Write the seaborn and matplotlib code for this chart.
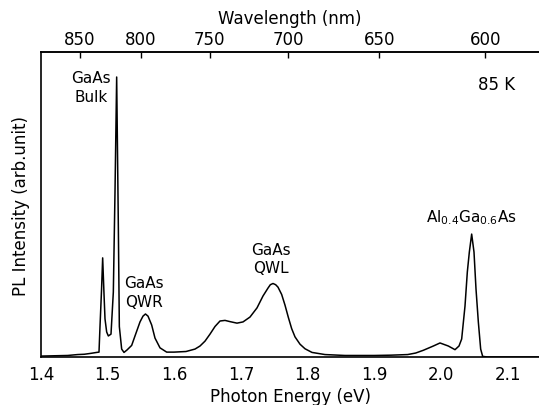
import numpy as np
import matplotlib
matplotlib.use('Agg')
import matplotlib.pyplot as plt
import seaborn as sns

# Espectro de PL (energía en eV, intensidad en unidades arbitrarias)
energy = [1.400, 1.420, 1.440, 1.455, 1.465, 1.475, 1.4835, 1.487, 1.4885, 1.4908,
          1.4925, 1.4945, 1.496, 1.4985, 1.501, 1.505, 1.5085, 1.511, 1.5135, 1.516,
          1.5175, 1.521, 1.5245, 1.529, 1.536, 1.541, 1.5485, 1.553, 1.5567, 1.5605,
          1.566, 1.571, 1.5785, 1.5885, 1.5995, 1.6175, 1.631, 1.6385, 1.646, 1.6535,
          1.661, 1.6685, 1.676, 1.6835, 1.694, 1.703, 1.7135, 1.724, 1.733, 1.7405,
          1.744, 1.748, 1.752, 1.7555, 1.761, 1.766, 1.771, 1.776, 1.781, 1.7885,
          1.796, 1.8065, 1.826, 1.856, 1.900, 1.925, 1.950, 1.962, 1.9735, 1.9885,
          1.9985, 2.011, 2.021, 2.027, 2.031, 2.036, 2.0395, 2.0425, 2.046, 2.0495,
          2.0525, 2.056, 2.0595, 2.0625, 2.070, 2.147]
intensity = [0.003, 0.004, 0.005, 0.008, 0.009, 0.012, 0.015, 0.016, 0.10, 0.22,
             0.325, 0.207, 0.125, 0.082, 0.069, 0.075, 0.213, 0.541, 0.918, 0.43,
             0.10, 0.026, 0.015, 0.023, 0.038, 0.069, 0.115, 0.134, 0.141, 0.134,
             0.105, 0.062, 0.030, 0.016, 0.016, 0.018, 0.026, 0.036, 0.052, 0.075,
             0.10, 0.118, 0.12, 0.116, 0.111, 0.115, 0.131, 0.161, 0.2, 0.226,
             0.237, 0.241, 0.237, 0.229, 0.205, 0.17, 0.13, 0.093, 0.066, 0.042,
             0.027, 0.015, 0.008, 0.005, 0.005, 0.006, 0.008, 0.013, 0.022, 0.036,
             0.046, 0.036, 0.024, 0.036, 0.059, 0.167, 0.279, 0.344, 0.403, 0.344,
             0.223, 0.115, 0.026, 0.002, 0.0, 0.0]

energy_ticks = [1.4, 1.5, 1.6, 1.7, 1.8, 1.9, 2.0, 2.1]
wavelength_ticks = [850, 800, 750, 700, 650, 600]

# Etiquetas de los picos: (texto, energía, intensidad del borde superior)
peak_labels = [
    ("GaAs\nBulk", 1.475, 0.94),
    ("GaAs\nQWR", 1.5545, 0.268),
    ("GaAs\nQWL", 1.745, 0.378),
    ("Al$_{0.4}$Ga$_{0.6}$As", 2.046, 0.492),
]

sns.set_style('white')
plt.rcParams['font.family'] = ['DejaVu Sans']
plt.rcParams['mathtext.default'] = 'regular'
plt.rcParams['text.color'] = 'black'
plt.rcParams['axes.labelcolor'] = 'black'
plt.rcParams['xtick.color'] = 'black'
plt.rcParams['ytick.color'] = 'black'

fig = plt.figure(figsize=(5.39, 4.06), dpi=100)
ax = fig.add_axes([41 / 539, 48 / 406, 498 / 539, 305 / 406])

sns.lineplot(x=energy, y=intensity, ax=ax, color='black', linewidth=1.1, sort=False)

ax.set_xlim(1.4, 2.147)
ax.set_ylim(0, 1)
ax.set_xticks(energy_ticks)
ax.set_xticklabels([f"{t:.1f}" for t in energy_ticks])
ax.set_yticks([])
ax.tick_params(axis='x', direction='in', length=4, width=1, labelsize=12, pad=6)
ax.set_xlabel('Photon Energy (eV)', fontsize=12, labelpad=3)
ax.set_ylabel('PL Intensity (arb.unit)', fontsize=12, labelpad=8)

for side in ['left', 'bottom', 'top']:
    ax.spines[side].set_visible(True)
    ax.spines[side].set_color('black')
    ax.spines[side].set_linewidth(1.2)
ax.spines['right'].set_visible(False)

# Eje superior en longitud de onda
top = ax.secondary_xaxis('top', functions=(lambda e: 1239.84 / np.asarray(e, dtype=float),
                                            lambda l: 1239.84 / np.asarray(l, dtype=float)))
top.set_xticks(wavelength_ticks)
top.tick_params(direction='in', length=4, width=1, labelsize=12, pad=3)
top.set_xlabel('Wavelength (nm)', fontsize=12, labelpad=5)
top.spines['top'].set_linewidth(1.2)

for text, x, y in peak_labels:
    ax.text(x, y, text, ha='center', va='top', fontsize=11, linespacing=1.3)

ax.text(2.083, 0.895, '85 K', ha='center', va='center', fontsize=12)

fig.savefig('out.png', dpi=100)
